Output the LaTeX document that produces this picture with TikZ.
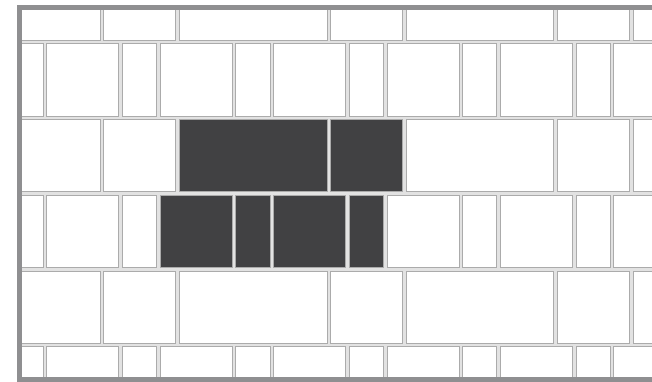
\documentclass[tikz,border=0pt]{standalone}
\definecolor{tilegray}{HTML}{ABABAB}
\definecolor{groutgray}{HTML}{E2E2E2}
\definecolor{tiledark}{HTML}{414143}
\definecolor{framegray}{HTML}{8F8F91}
\begin{document}
\begin{tikzpicture}[x=1pt, y=-1pt,
    tile/.style={fill=white, draw=tilegray, line width=0.9pt},
    darktile/.style={fill=tiledark, draw=tilegray, line width=0.9pt}]

    \useasboundingbox (0,0) rectangle (652,381);
    \def\U{75.6}    % tile width
    \def\V{75.75}   % tile height
    \def\G{1.8}     % half grout

    % =================================================================
    % TILE FIELD (clipped by the frame)
    % =================================================================
    \begin{scope}
        \clip (19.5,7.5) rectangle (652,379.5);
        \fill[groutgray] (19.5,7.5) rectangle (652,379.5);

        % Rows of long tiles: double + square
        \foreach \ya in {-33.75, 117.75, 269.25} {
            \foreach \xa in {-49.2, 177.6, 404.4, 631.2}
                \draw[tile] (\xa+\G,\ya+\G) rectangle (\xa+2*\U-\G,\ya+\V-\G);
            \foreach \xa in {102, 328.8, 555.6}
                \draw[tile] (\xa+\G,\ya+\G) rectangle (\xa+\U-\G,\ya+\V-\G);
        }

        % Rows of short tiles: square + half
        \foreach \yb in {42, 193.5, 345} {
            \foreach \xb in {45, 158.4, 271.8, 385.2, 498.6, 612}
                \draw[tile] (\xb+\G,\yb+\G) rectangle (\xb+\U-\G,\yb+\V-\G);
            \foreach \xb in {7.2, 120.6, 234, 347.4, 460.8, 574.2}
                \draw[tile] (\xb+\G,\yb+\G) rectangle (\xb+0.5*\U-\G,\yb+\V-\G);
        }

        % Dark tiles
        \draw[darktile] (177.6+\G,117.75+\G) rectangle (177.6+2*\U-\G,117.75+\V-\G);
        \draw[darktile] (328.8+\G,117.75+\G) rectangle (328.8+\U-\G,117.75+\V-\G);
        \foreach \xb in {158.4, 271.8}
            \draw[darktile] (\xb+\G,193.5+\G) rectangle (\xb+\U-\G,193.5+\V-\G);
        \foreach \xb in {234, 347.4}
            \draw[darktile] (\xb+\G,193.5+\G) rectangle (\xb+0.5*\U-\G,193.5+\V-\G);
    \end{scope}

    % Frame: top, left and bottom
    \draw[framegray, line width=5pt] (652,7.5) -- (19.5,7.5) -- (19.5,379.5) -- (652,379.5);

\end{tikzpicture}
\end{document}
